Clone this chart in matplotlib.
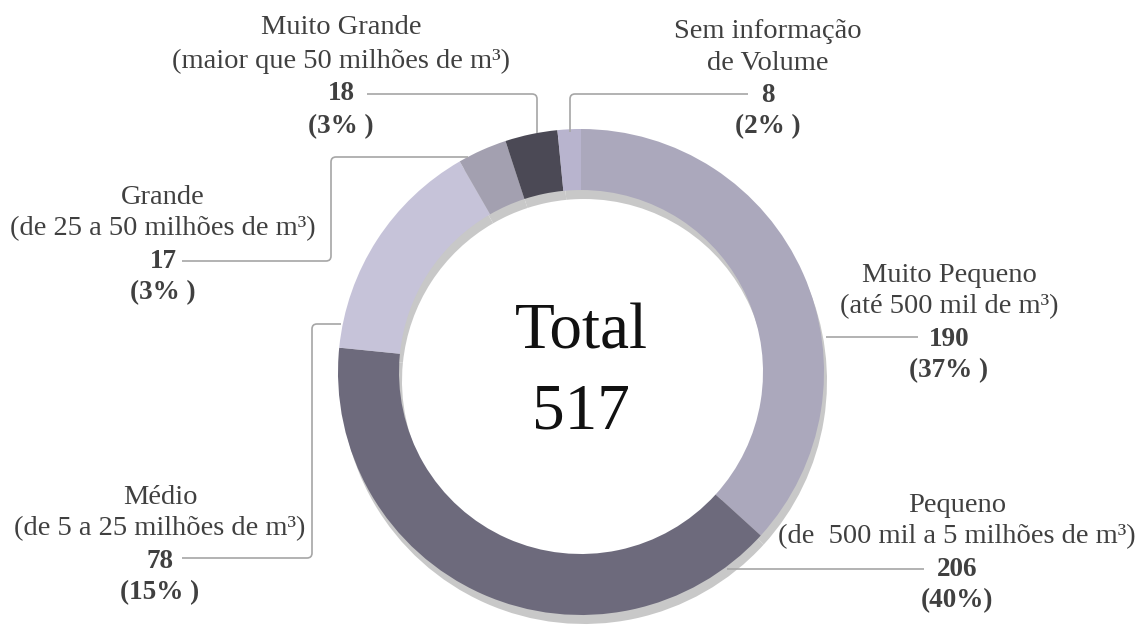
import numpy as np
import matplotlib.pyplot as plt
from matplotlib.path import Path
from matplotlib.patches import PathPatch

# data
categories = ['Muito Pequeno', 'Pequeno', 'Médio', 'Grande', 'Muito Grande',
              'Sem informação']
subtitles = ['(até 500 mil de m³)', '(de  500 mil a 5 milhões de m³)',
             '(de 5 a 25 milhões de m³)', '(de 25 a 50 milhões de m³)',
             '(maior que 50 milhões de m³)', 'de Volume']
counts = [190, 206, 78, 17, 18, 8]
pct_labels = ['(37% )', '(40%)', '(15% )', '(3% )', '(3% )', '(2% )']
colors = ['#aba8bc', '#6d6a7c', '#c6c3d9', '#a3a0b0', '#4b4955', '#b8b4ce']
total = sum(counts)

W, H = 1140, 626
fig = plt.figure(figsize=(W / 100, H / 100), dpi=100)
ax = fig.add_axes([0, 0, 1, 1])

plt.rcParams['font.family'] = ['Liberation Serif', 'DejaVu Serif']

def Y(y):
    # pixel row (top-down) -> data y
    return H - y

cx, cy, R, ring = 581, 372, 243, 61

# shadow ring
ax.pie(counts, colors=['#c8c8c8'] * len(counts), startangle=90, counterclock=False,
       radius=R, center=(cx + 3, Y(cy) - 9), frame=True,
       wedgeprops=dict(width=ring, linewidth=0))
# main ring
ax.pie(counts, colors=colors, startangle=90, counterclock=False,
       radius=R, center=(cx, Y(cy)), frame=True,
       wedgeprops=dict(width=ring, linewidth=0))
ax.set_xlim(0, W)
ax.set_ylim(0, H)
ax.set_aspect('equal')
ax.axis('off')

ax.text(cx, Y(333), 'Total', ha='center', va='center', fontsize=47, color='#111111')
ax.text(cx, Y(413), str(total), ha='center', va='center', fontsize=47, color='#111111')


def connector(pts, r=5):
    # polyline with small rounded corners
    pts = [np.array([x, Y(y)], float) for x, y in pts]
    verts = [pts[0]]
    codes = [Path.MOVETO]
    for i in range(1, len(pts) - 1):
        p0, p1, p2 = pts[i - 1], pts[i], pts[i + 1]
        d0 = (p1 - p0) / np.linalg.norm(p1 - p0)
        d1 = (p2 - p1) / np.linalg.norm(p2 - p1)
        verts += [p1 - d0 * r, p1, p1 + d1 * r]
        codes += [Path.LINETO, Path.CURVE3, Path.CURVE3]
    verts.append(pts[-1])
    codes.append(Path.LINETO)
    ax.add_patch(PathPatch(Path(verts, codes), fill=False, edgecolor='#a6a6a6',
                           lw=1.2, zorder=1))


# label blocks: x centre, row of first line
label_pos = [(949, 275), (957, 505), (160, 497), (163, 197), (341, 28), (768, 31)]
line_gap = [32, 32, 32, 32, 33, 32]
leaders = [
    [(826, 337), (918, 337)],
    [(727, 569), (924, 569)],
    [(341, 324), (312, 324), (312, 558), (182, 558)],
    [(468, 157), (331, 157), (331, 261), (182, 261)],
    [(537, 133), (537, 94), (367, 94)],
    [(570, 132), (570, 94), (748, 94)],
]

fs = 20.5
for i in range(len(categories)):
    x, y0 = label_pos[i]
    g = line_gap[i]
    ax.text(x, Y(y0), categories[i], ha='center', va='center', fontsize=fs,
            color='#404040')
    ax.text(x, Y(y0 + g), subtitles[i], ha='center', va='center', fontsize=fs,
            color='#404040')
    ax.text(x, Y(y0 + 2 * g), str(counts[i]), ha='center', va='center', fontsize=fs - 1,
            color='#404040', fontweight='bold')
    ax.text(x, Y(y0 + 3 * g), pct_labels[i], ha='center', va='center', fontsize=fs - 1,
            color='#404040', fontweight='bold')
    connector(leaders[i])

fig.savefig('out.png', dpi=100, facecolor='white')
